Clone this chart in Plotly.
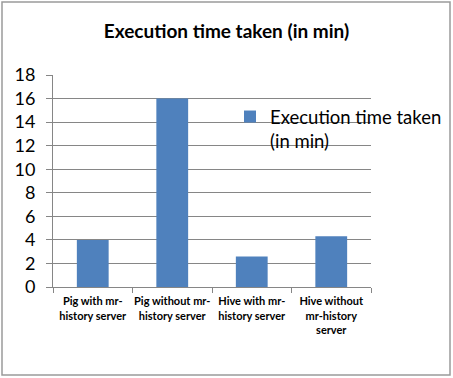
import plotly.graph_objects as go

categories = ["Pig with mr-<br>history server", "Pig without mr-<br>history server",
              "Hive with mr-<br>history server", "Hive without<br>mr-history<br>server"]
values = [4.0, 16.0, 2.6, 4.3]
series_name = "Execution time taken<br>(in min)"
title_text = "Execution time taken (in min)"

W, H = 453, 378
L, R, T, B = 53, 82, 75, 91
pw, ph = W - L - R, H - T - B

def px_x(x):
    return (x - L) / pw

def px_y(y):
    return (H - B - y) / ph

fig = go.Figure()
fig.add_trace(go.Bar(x=categories, y=values, name=series_name,
                     marker=dict(color="#4F81BD", line=dict(width=0)),
                     showlegend=True))

fig.update_layout(
    width=W, height=H,
    margin=dict(l=L, r=R, t=T, b=B, autoexpand=False),
    paper_bgcolor="white", plot_bgcolor="white",
    bargap=0.6,
    font=dict(family="Lato", color="black"),
    title=dict(text=title_text, x=0.5, xref="container", xanchor="center",
               y=1 - 31 / H, yanchor="middle",
               font=dict(size=19, family="Lato", weight="bold")),
    showlegend=True,
    legend=dict(x=px_x(230), y=px_y(98), xanchor="left", yanchor="top",
                bgcolor="rgba(0,0,0,0)", font=dict(size=18.5, family="Lato"),
                valign="top", itemsizing="constant", tracegroupgap=0),
    xaxis=dict(showline=True, linecolor="#868686", linewidth=1, automargin=False,
               ticks="outside", tickson="boundaries", ticklen=5, tickcolor="#868686",
               ticklabelstandoff=4,
               tickfont=dict(size=11, family="Lato", color="black", weight="bold"),
               tickangle=0, showgrid=False),
    yaxis=dict(range=[0, 18], dtick=2, showline=True, linecolor="#868686", linewidth=1,
               automargin=False, ticklabelstandoff=7,
               ticks="outside", ticklen=6, tickcolor="#868686",
               showgrid=True, gridcolor="#868686", gridwidth=1,
               tickfont=dict(size=18, family="Lato", color="black"),
               zeroline=False),
)

fig.add_shape(type="rect", xref="paper", yref="paper",
              x0=px_x(2), x1=px_x(450), y0=px_y(375), y1=px_y(2),
              line=dict(color="#9a9a9a", width=1.5), fillcolor="rgba(0,0,0,0)", layer="below")

fig.write_html("out.html")
